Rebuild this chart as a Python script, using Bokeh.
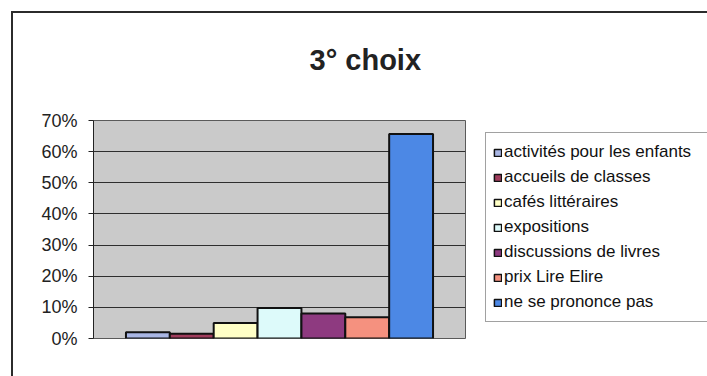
from bokeh.plotting import figure
from bokeh.layouts import row
from bokeh.models import Range1d, FactorRange, NumeralTickFormatter, Legend, LegendItem, Title, FixedTicker
from bokeh.embed import file_html
from bokeh.resources import INLINE

# ---- data ----
categories = ["activités pour les enfants", "accueils de classes", "cafés littéraires",
              "expositions", "discussions de livres", "prix Lire Elire", "ne se prononce pas"]
values = [0.02, 0.015, 0.05, 0.098, 0.08, 0.068, 0.657]
colors = ["#A9B6E4", "#A03C5C", "#FFFFC6", "#DDFAFA", "#8E3A80", "#F5917F", "#4C88E5"]
y_ticks = [0.0, 0.1, 0.2, 0.3, 0.4, 0.5, 0.6, 0.7]
title_text = "3° choix"

FONT = "Liberation Sans"

p = figure(width=470, height=376, output_backend="svg", toolbar_location=None,
           x_range=FactorRange(*categories, range_padding=0.74, range_padding_units="absolute"),
           y_range=Range1d(0, 0.70),
           min_border_left=93, min_border_right=5, min_border_top=119, min_border_bottom=38)
p.border_fill_color = None
p.background_fill_color = "#CACACA"
p.outline_line_color = "#5a5a5a"
p.outline_line_width = 1

renderers = []
for c, v, col in zip(categories, values, colors):
    r = p.vbar(x=[c], top=[v], bottom=0, width=1.0, fill_color=col, line_color="#111111", line_width=2)
    renderers.append(r)

# axes
p.xaxis.visible = False
p.xgrid.visible = False
p.yaxis.ticker = FixedTicker(ticks=y_ticks)
p.yaxis.formatter = NumeralTickFormatter(format="0%")
p.yaxis.major_label_text_font = FONT
p.yaxis.major_label_text_font_size = "18px"
p.yaxis.major_label_text_color = "#222222"
p.yaxis.major_tick_out = 5
p.yaxis.major_tick_in = 0
p.yaxis.minor_tick_line_color = None
p.yaxis.axis_line_color = "#222222"
p.yaxis.major_tick_line_color = "#222222"
p.yaxis.major_label_standoff = 11
p.ygrid.ticker = FixedTicker(ticks=y_ticks[1:-1])
p.ygrid.grid_line_color = "#2e2e2e"
p.ygrid.grid_line_width = 1

# title
t = Title(text=title_text, align="left", offset=216, text_font=FONT, text_font_size="29px",
          text_font_style="bold", text_color="#222222", standoff=86, vertical_align="top")
p.add_layout(t, "above")

# legend figure (right part of the chart)
lf = figure(width=237, height=376, output_backend="svg", toolbar_location=None,
            x_range=FactorRange(*categories), y_range=Range1d(0, 1),
            min_border_left=0, min_border_right=0, min_border_top=0, min_border_bottom=0)
lf.axis.visible = False
lf.grid.visible = False
lf.outline_line_color = None
lf.background_fill_color = None
lf.border_fill_color = None

items = []
for c, v, col in zip(categories, values, colors):
    r = lf.vbar(x=[c], top=[v], width=1.0, fill_color=col, line_color="#111111", line_width=1.5,
                visible=False)
    items.append(LegendItem(label=c, renderers=[r]))

legend = Legend(items=items, location=(15, 16), margin=0, padding=7,
                glyph_width=9, glyph_height=9, label_standoff=2, label_height=24, spacing=1,
                label_text_font=FONT, label_text_font_size="17px", label_text_color="#111111",
                border_line_color="#444444", border_line_width=1, background_fill_color="#ffffff",
                inactive_fill_alpha=0.0, label_width=205)
lf.add_layout(legend, "center")

layout = row(p, lf, spacing=0)
layout.styles = {"background": "linear-gradient(#2b2b2b,#2b2b2b) 11px 11px / 2px 100% no-repeat, "
                               "linear-gradient(#2b2b2b,#2b2b2b) 11px 11px / 100% 2px no-repeat, #ffffff"}

open("out.html", "w").write(file_html(layout, INLINE))
